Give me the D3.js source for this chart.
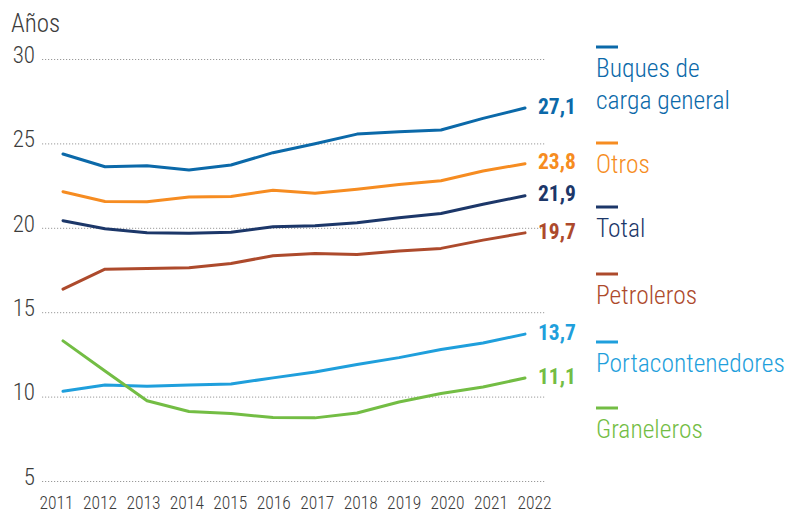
<!DOCTYPE html>
<html>
<head>
<meta charset="utf-8">
<script src="https://cdn.jsdelivr.net/npm/d3@7"></script>
<style>
  body { margin: 0; background: #fff; }
  svg text { font-family: "Roboto", sans-serif; font-stretch: condensed; }
</style>
</head>
<body>
<div id="chart"></div>
<script>
const YEARS = [2011, 2012, 2013, 2014, 2015, 2016, 2017, 2018, 2019, 2020, 2021, 2022]

const buques = [24.37, 23.62, 23.67, 23.42, 23.72, 24.45, 24.98, 25.55, 25.69, 25.79, 26.48, 27.1]
const otros = [22.14, 21.56, 21.54, 21.82, 21.86, 22.23, 22.04, 22.29, 22.57, 22.79, 23.36, 23.8]
const total = [20.42, 19.94, 19.70, 19.67, 19.73, 20.06, 20.12, 20.30, 20.6, 20.85, 21.39, 21.9]
const petroleros = [16.37, 17.55, 17.59, 17.63, 17.89, 18.34, 18.48, 18.42, 18.62, 18.78, 19.27, 19.7]
const portacontenedores = [10.32, 10.69, 10.62, 10.68, 10.75, 11.11, 11.46, 11.9, 12.31, 12.79, 13.18, 13.7]
const graneleros = [13.30, 11.52, 9.75, 9.12, 9.0, 8.76, 8.74, 9.03, 9.68, 10.18, 10.57, 11.1]

const Y_TICKS = [5, 10, 15, 20, 25, 30]

const SERIES = [
    { name: ["Buques de", "carga general"], values: buques, label: "27,1", color: "#0b69a9" },
    { name: ["Otros"], values: otros, label: "23,8", color: "#f68c21" },
    { name: ["Total"], values: total, label: "21,9", color: "#1c3769" },
    { name: ["Petroleros"], values: petroleros, label: "19,7", color: "#ad4a2c" },
    { name: ["Portacontenedores"], values: portacontenedores, label: "13,7", color: "#1f9fdc" },
    { name: ["Graneleros"], values: graneleros, label: "11,1", color: "#73bd44" },
]

// legend swatch y positions
const LEGEND_Y = [47, 143, 207, 274, 342, 408]

const width = 789, height = 513

const svg = d3.select("#chart")
    .append("svg")
    .attr("width", width)
    .attr("height", height)

const x = d3.scalePoint()
    .domain(YEARS)
    .range([63, 525])

// year labels sit on a slightly wider spread than the points
const xLabel = d3.scalePoint()
    .domain(YEARS)
    .range([56, 534])

const y = d3.scaleLinear()
    .domain([5, 30])
    .range([481, 59])

const textColor = "#3c3c3c"

// grid
svg.append("g")
    .selectAll("line")
    .data(Y_TICKS)
    .enter().append("line")
    .attr("x1", 42)
    .attr("x2", 545)
    .attr("y1", d => y(d) + 0.5)
    .attr("y2", d => y(d) + 0.5)
    .attr("stroke", "#9a9a9a")
    .attr("stroke-width", 1)
    .attr("stroke-dasharray", "1.2,1.8")

// y axis labels
const yAxis = svg.append("g")
    .attr("transform", "translate(35,0)")
    .call(d3.axisLeft(y).tickValues(Y_TICKS).tickSize(0).tickPadding(0))
yAxis.select(".domain").remove()
yAxis.selectAll("text")
    .attr("fill", textColor)
    .attr("font-size", 23)
    .attr("font-weight", 300)
    .attr("dy", "0.14em")

svg.append("text")
    .attr("x", 11)
    .attr("y", 32)
    .attr("fill", textColor)
    .attr("font-size", 25)
    .attr("font-weight", 300)
    .text("Años")

// x axis labels
const xAxis = svg.append("g")
    .attr("transform", "translate(0,509)")
    .call(d3.axisBottom(xLabel).tickSize(0).tickPadding(0))
xAxis.select(".domain").remove()
xAxis.selectAll("text")
    .attr("fill", textColor)
    .attr("font-size", 17.5)
    .attr("font-weight", 300)
    .attr("dy", 0)

// lines
const line = d3.line()
    .x((d, i) => x(YEARS[i]))
    .y(d => y(d))
    .curve(d3.curveLinear)

svg.append("g")
    .selectAll("path")
    .data(SERIES)
    .enter().append("path")
    .attr("fill", "none")
    .attr("stroke", d => d.color)
    .attr("stroke-width", 3)
    .attr("stroke-linejoin", "round")
    .attr("stroke-linecap", "round")
    .attr("d", d => line(d.values))

// end labels
svg.append("g")
    .selectAll("text")
    .data(SERIES)
    .enter().append("text")
    .attr("x", 538)
    .attr("y", d => y(d.values[d.values.length - 1]) - 2)
    .attr("dy", "0.36em")
    .attr("fill", d => d.color)
    .attr("font-size", 21.5)
    .attr("font-weight", 700)
    .text(d => d.label)

// legend
const legend = svg.append("g")
    .selectAll("g")
    .data(SERIES)
    .enter().append("g")
    .attr("transform", (d, i) => "translate(596," + LEGEND_Y[i] + ")")

legend.append("line")
    .attr("x1", 0)
    .attr("x2", 22)
    .attr("stroke", d => d.color)
    .attr("stroke-width", 3)

legend.append("text")
    .attr("fill", d => d.color)
    .attr("font-size", 25.5)
    .attr("font-weight", 300)
    .selectAll("tspan")
    .data(d => d.name)
    .enter().append("tspan")
    .attr("x", 0)
    .attr("y", (d, i) => 30 + i * 32)
    .text(d => d)
</script>
</body>
</html>
